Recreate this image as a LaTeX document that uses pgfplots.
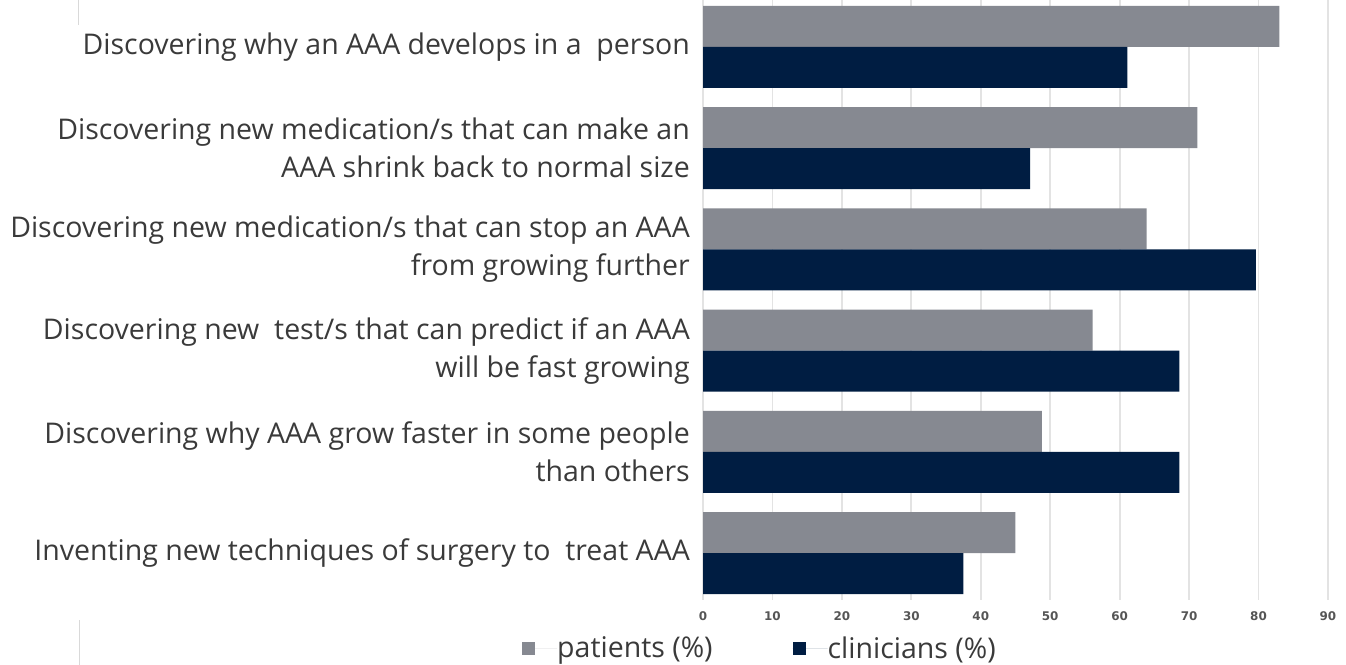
\documentclass[border=0pt]{standalone}
\usepackage{pgfplots}
\pgfplotsset{compat=1.18}
\usepackage{fontspec}
\setmainfont{Open Sans}
\newfontfamily\tickfont{DejaVu Sans}
\definecolor{patc}{HTML}{868991}
\definecolor{clinc}{HTML}{001D42}
\definecolor{txtc}{HTML}{3A3A3A}
\definecolor{gridc}{HTML}{E3E3E3}
\definecolor{tickc}{HTML}{555555}
\begin{document}
\begin{tikzpicture}
\begin{axis}[
  at={(703bp,65bp)}, anchor=south west,
  scale only axis, width=625bp, height=600bp,
  xbar, bar width=41bp,
  xmin=0, xmax=90, ymin=-0.464, ymax=5.464,
  xtick={0,10,...,90},
  ytick={0,...,5},
  yticklabels={
    {Inventing new techniques of surgery to\ \ treat AAA},
    {Discovering why AAA grow faster in some people\\than others},
    {Discovering new\ \ test/s that can predict if an AAA\\will be fast growing},
    {Discovering new medication/s that can stop an AAA\\from growing further},
    {Discovering new medication/s that can make an\\AAA shrink back to normal size},
    {\raisebox{5bp}{Discovering why an AAA develops in a\ \ person}}},
  axis line style={draw=none},
  major tick length=0pt,
  xmajorgrids, ymajorgrids=false,
  major grid style={gridc, line width=1.8bp},
  /pgf/number format/assume math mode=true,
  xticklabel style={font=\tickfont\bfseries\fontsize{12}{14}\selectfont, text=tickc, yshift=-8bp},
  yticklabel style={font=\fontsize{28.6}{38}\selectfont, text=txtc, align=right, inner sep=0pt, xshift=-13bp},
  legend columns=2,
  legend style={at={(0.0896,-0.08)}, anchor=center, draw=none, fill=none,
    font=\fontsize{28.6}{32}\selectfont, text=txtc,
    nodes={inner sep=0pt},
    /tikz/every even column/.append style={column sep=80bp}},
  legend image code/.code={\path (0bp,0bp) -- (35bp,0bp); \fill[#1] (0bp,-6.5bp) rectangle (13bp,6.5bp);},
]
\addplot[fill=patc, draw=none, bar shift=20.5bp] coordinates {
  (45.0,0) (48.8,1) (56.1,2) (63.9,3) (71.2,4) (83.0,5)};
\addplot[fill=clinc, draw=none, bar shift=-20.5bp] coordinates {
  (37.5,0) (68.6,1) (68.6,2) (79.6,3) (47.1,4) (61.1,5)};
\legend{patients (\%), clinicians (\%)}
\end{axis}
\draw[gray!30, line width=0.8bp] (78bp,640bp) -- (78bp,665bp);
\draw[gray!30, line width=0.8bp] (79bp,0bp) -- (79bp,45bp);
\pgfresetboundingbox
\path[use as bounding box] (0bp,0bp) rectangle (1346bp,665bp);
\end{tikzpicture}
\end{document}
